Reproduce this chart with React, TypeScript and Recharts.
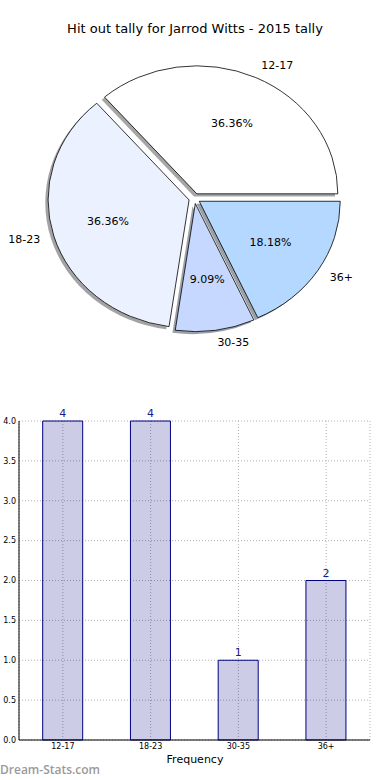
import { PieChart, Pie, Cell, BarChart, Bar, XAxis, YAxis, CartesianGrid, LabelList } from 'recharts'

const categories = ['12-17', '18-23', '30-35', '36+']
const counts = [4, 4, 1, 2]
const sliceColors = ['#ffffff', '#ebf1fe', '#c6d8ff', '#b4d8ff']
const yTicks = [0, 0.5, 1, 1.5, 2, 2.5, 3, 3.5, 4]

const data = categories.map((name, i) => ({ name, value: counts[i] }))

const FONT = '"DejaVu Sans", sans-serif'
const ASPECT = 128 / 141 // matplotlib pie came out squashed
const EXPLODE = 0.04
const RAD = Math.PI / 180

// shadow = 0.3 * face colour, half transparent (like mpl Shadow)
function shade(hex: string): string {
  const n = parseInt(hex.slice(1), 16)
  const r = Math.round(((n >> 16) & 255) * 0.3)
  const g = Math.round(((n >> 8) & 255) * 0.3)
  const b = Math.round((n & 255) * 0.3)
  return `rgb(${r},${g},${b})`
}

function wedgePath(cx: number, cy: number, r: number, start: number, end: number, sx = 0, sy = 0): string {
  const ry = r * ASPECT
  const mid = (start + end) / 2
  const ox = cx + EXPLODE * r * Math.cos(mid * RAD) + sx
  const oy = cy - EXPLODE * ry * Math.sin(mid * RAD) + sy
  const px = (a: number) => ox + r * Math.cos(a * RAD)
  const py = (a: number) => oy - ry * Math.sin(a * RAD)
  const large = end - start > 180 ? 1 : 0
  return `M${ox},${oy} L${px(start)},${py(start)} A${r},${ry} 0 ${large} 0 ${px(end)},${py(end)} Z`
}

function Wedge(props: any) {
  const { cx, cy, outerRadius, startAngle, endAngle, fill } = props
  return <path d={wedgePath(cx, cy, outerRadius, startAngle, endAngle)} fill={fill} stroke="#000" strokeWidth={0.8} />
}

function ShadowWedge(props: any) {
  const { cx, cy, outerRadius, startAngle, endAngle, fill } = props
  const d = wedgePath(cx, cy, outerRadius, startAngle, endAngle, -0.02 * outerRadius, 0.02 * outerRadius * ASPECT)
  return <path d={d} fill={shade(fill)} fillOpacity={0.5} stroke="none" />
}

function renderPieLabel(props: any) {
  const { cx, cy, midAngle, outerRadius, percent, index } = props
  const r = outerRadius
  const ry = r * ASPECT
  const cos = Math.cos(midAngle * RAD)
  const sin = Math.sin(midAngle * RAD)
  const ox = cx + EXPLODE * r * cos
  const oy = cy - EXPLODE * ry * sin
  return (
    <g>
      <text
        x={ox + 1.1 * r * cos}
        y={oy - 1.1 * ry * sin}
        textAnchor={cos > 0 ? 'start' : 'end'}
        dominantBaseline="central"
        fontSize={11}
        fontFamily={FONT}
        fill="#000"
      >
        {categories[index]}
      </text>
      <text
        x={ox + 0.6 * r * cos}
        y={oy - 0.6 * ry * sin}
        textAnchor="middle"
        dominantBaseline="central"
        fontSize={11}
        fontFamily={FONT}
        fill="#000"
      >
        {(percent * 100).toFixed(2)}%
      </text>
    </g>
  )
}

export default function App() {
  return (
    <div style={{ position: 'absolute', left: 0, top: 0, width: 390, height: 780, background: '#fff', fontFamily: FONT }}>
      <div style={{ position: 'absolute', top: 21, left: 0, width: 390, textAlign: 'center', fontSize: 13, color: '#000' }}>
        Hit out tally for Jarrod Witts - 2015 tally
      </div>

      <div style={{ position: 'absolute', top: 0, left: 0 }}>
        <PieChart width={390} height={380} margin={{ top: 0, right: 0, bottom: 0, left: 0 }}>
          <Pie
            data={data}
            dataKey="value"
            cx={194.5}
            cy={198.5}
            outerRadius={141}
            startAngle={0}
            endAngle={360}
            shape={ShadowWedge}
            activeShape={ShadowWedge}
            inactiveShape={ShadowWedge}
            isAnimationActive={false}
          >
            {data.map((d, i) => (
              <Cell key={d.name} fill={sliceColors[i]} />
            ))}
          </Pie>
          <Pie
            data={data}
            dataKey="value"
            cx={194.5}
            cy={198.5}
            outerRadius={141}
            startAngle={0}
            endAngle={360}
            shape={Wedge}
            activeShape={Wedge}
            inactiveShape={Wedge}
            label={renderPieLabel}
            labelLine={false}
            isAnimationActive={false}
          >
            {data.map((d, i) => (
              <Cell key={d.name} fill={sliceColors[i]} />
            ))}
          </Pie>
        </PieChart>
      </div>

      <div style={{ position: 'absolute', top: 400, left: 0 }}>
        <BarChart
          width={390}
          height={380}
          data={data}
          margin={{ top: 21, right: 20, bottom: 20, left: 0 }}
          barCategoryGap="27%"
        >
          <CartesianGrid stroke="#b0b0b0" strokeDasharray="1 2" />
          <XAxis
            dataKey="name"
            interval={0}
            height={20}
            tickLine={false}
            tickSize={0}
            tickMargin={3}
            axisLine={{ stroke: '#000' }}
            tick={{ fontSize: 8, fill: '#000', fontFamily: FONT }}
          />
          <XAxis xAxisId="top" orientation="top" dataKey="name" height={0} tick={false} tickLine={false} axisLine={{ stroke: '#000' }} />
          <YAxis
            domain={[0, 4]}
            ticks={yTicks}
            interval={0}
            width={19}
            tickLine={false}
            tickSize={0}
            tickMargin={3}
            tickFormatter={(v: number) => v.toFixed(1)}
            axisLine={{ stroke: '#000' }}
            tick={{ fontSize: 8, fill: '#000', fontFamily: FONT }}
          />
          <YAxis yAxisId="right" orientation="right" domain={[0, 4]} width={0} tick={false} tickLine={false} axisLine={{ stroke: '#000' }} />
          <Bar dataKey="value" fill="#000080" fillOpacity={0.2} stroke="#000080" strokeWidth={1} isAnimationActive={false}>
            <LabelList dataKey="value" position="top" offset={4} fill="#1a1a8c" fontSize={11} fontFamily={FONT} />
          </Bar>
        </BarChart>
      </div>

      <div style={{ position: 'absolute', top: 753, left: 0, width: 390, textAlign: 'center', fontSize: 11, color: '#000' }}>
        Frequency
      </div>
      <div style={{ position: 'absolute', top: 761, left: 0, fontSize: 12, fontWeight: 600, color: '#9a9a9a', fontFamily: '"Open Sans", sans-serif' }}>
        Dream-Stats.com
      </div>
    </div>
  )
}
